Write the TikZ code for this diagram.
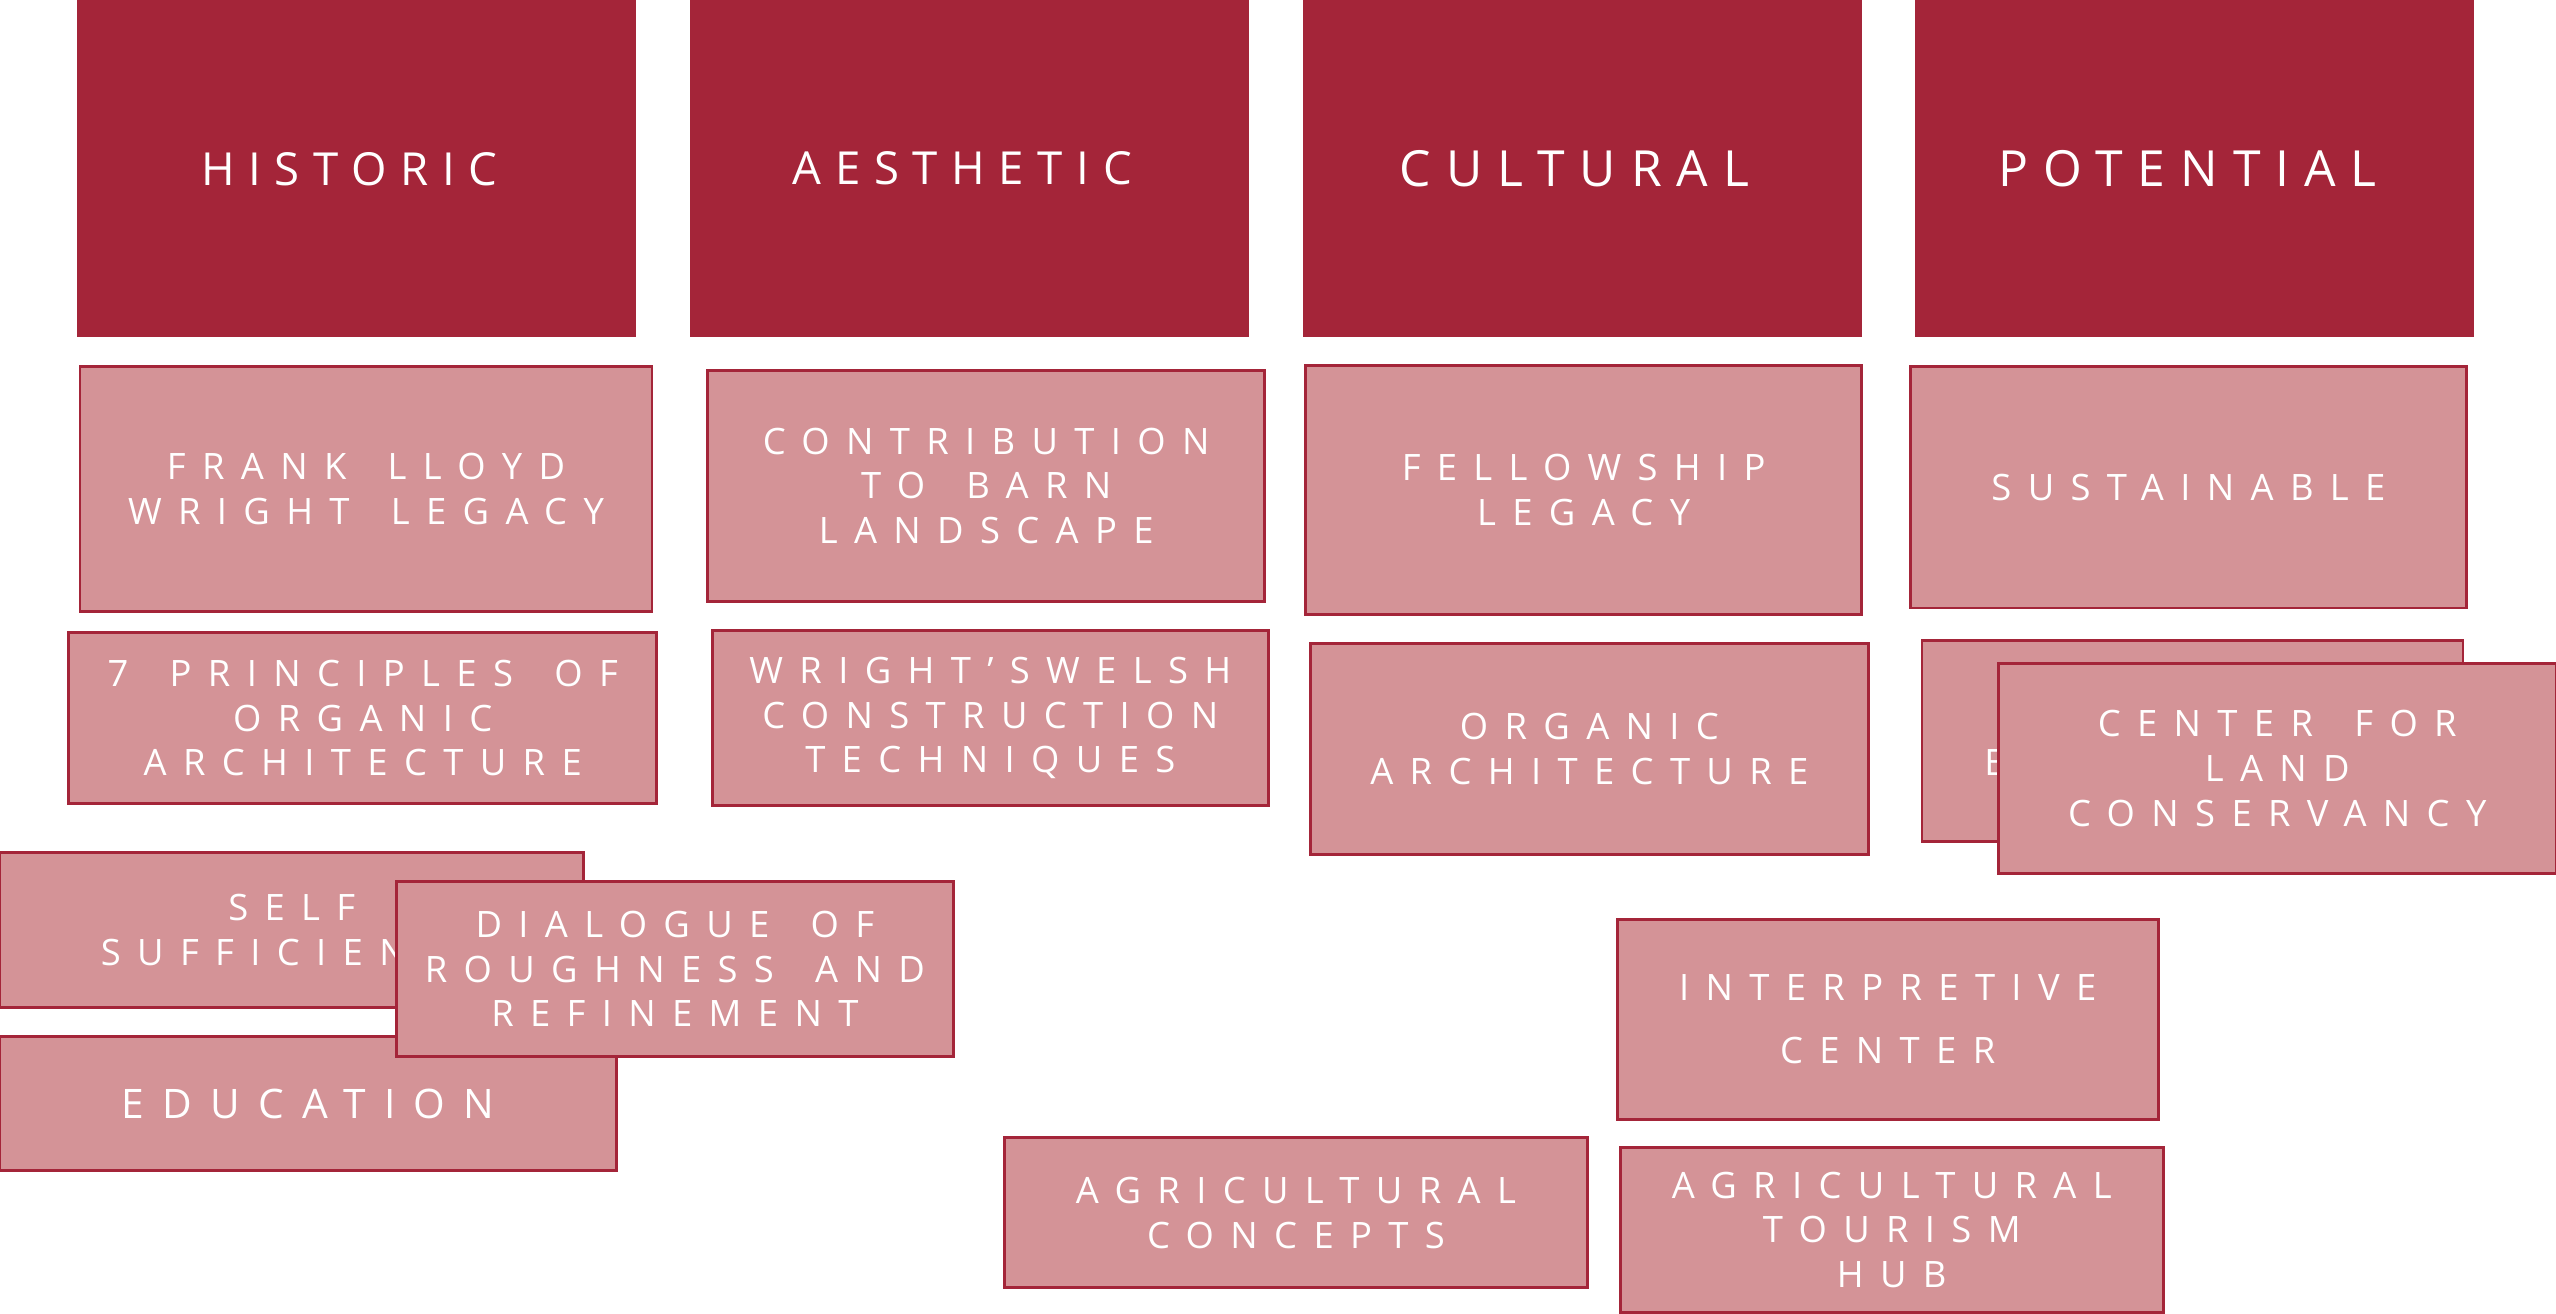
\documentclass[tikz,border=0pt]{standalone}
\usepackage{fontspec}
\setmainfont{Open Sans}
\newfontfamily\headfont[LetterSpace=30]{Open Sans}
\newfontfamily\boxfont[LetterSpace=45, WordSpace=1.6]{Open Sans}
\usetikzlibrary{positioning}
\definecolor{barnred}{HTML}{A42539}
\definecolor{barnpink}{HTML}{D49397}

\tikzset{
  headbox/.style={fill=barnred, text=white, inner sep=0pt, align=center,
    minimum width=6.86cm, minimum height=4.14cm,
    font=\headfont\fontsize{15.9}{19}\selectfont,
    execute at end node={\kern0.3em}},
  subbox/.style={fill=barnpink, draw=barnred, line width=1pt, text=white,
    inner sep=0pt, align=center,
    font=\boxfont\fontsize{12.7}{15.6}\selectfont},
}

\begin{document}
\begin{tikzpicture}[x=0.02cm, y=-0.02cm]
  \useasboundingbox (0,0) rectangle (1568,806);

  % headings
  \node[headbox] (historic) at (218.5,103.5) {HISTORIC};
  \node[headbox] (aesthetic) at (594.5,103.5) {AESTHETIC};
  \node[headbox, font=\headfont\fontsize{17.4}{21}\selectfont] (cultural) at (970.5,103.5) {CULTURAL};
  \node[headbox, font=\headfont\fontsize{17.4}{21}\selectfont] (potential) at (1346.5,103.5) {POTENTIAL};

  % second row
  \node[subbox, minimum width=7.02cm, minimum height=3.0cm] (frank) at (224.5,300) {FRANK LLOYD\\WRIGHT LEGACY};
  \node[subbox, minimum width=6.84cm, minimum height=2.84cm] (contrib) at (605,298) {CONTRIBUTION\\TO BARN\\LANDSCAPE};
  \node[subbox, minimum width=6.82cm, minimum height=3.06cm] (fellow) at (971.5,300.5) {FELLOWSHIP\\LEGACY};
  \node[subbox, minimum width=6.82cm, minimum height=2.96cm] (sustain) at (1342.5,299) {SUSTAINABLE};

  % third row
  \node[subbox, minimum width=7.22cm, minimum height=2.1cm] (principles) at (222.5,440.5) {7 PRINCIPLES OF\\ORGANIC\\ARCHITECTURE};
  \node[subbox, minimum width=6.82cm, minimum height=2.14cm] (welsh) at (607.5,440.5) {WRIGHT’SWELSH\\CONSTRUCTION\\TECHNIQUES};
  \node[subbox, minimum width=6.84cm, minimum height=2.58cm] (organic) at (975,459.5) {ORGANIC\\ARCHITECTURE};
  \node[subbox, minimum width=6.64cm, minimum height=2.46cm] (hidden) at (1345,454.5) {};
  \node[text=white, inner sep=0pt, anchor=west, font=\boxfont\fontsize{12.7}{15.6}\selectfont] (hiddentext) at (1217,468) {E};
  \node[subbox, minimum width=6.84cm, minimum height=2.58cm] (conserv) at (1397,471.5) {CENTER FOR\\LAND\\CONSERVANCY};

  % lower boxes
  \node[subbox, minimum width=7.16cm, minimum height=1.9cm] (selfsuff) at (179,570.5) {SELF\\SUFFICIENCY};
  \node[subbox, minimum width=7.56cm, minimum height=1.64cm, font=\boxfont\fontsize{14.2}{17}\selectfont] (education) at (189,677) {EDUCATION};
  \node[subbox, minimum width=6.84cm, minimum height=2.14cm] (dialogue) at (414,594.5) {DIALOGUE OF\\ROUGHNESS AND\\REFINEMENT};
  \node[subbox, minimum width=6.64cm, minimum height=2.46cm, font=\boxfont\fontsize{12.7}{22}\selectfont] (interp) at (1158,625.5) {INTERPRETIVE\\CENTER};
  \node[subbox, minimum width=7.16cm, minimum height=1.84cm] (agconcepts) at (795,744) {AGRICULTURAL\\CONCEPTS};
  \node[subbox, minimum width=6.66cm, minimum height=2.02cm] (agtourism) at (1160.5,754.5) {AGRICULTURAL\\TOURISM\\HUB};
\end{tikzpicture}
\end{document}
